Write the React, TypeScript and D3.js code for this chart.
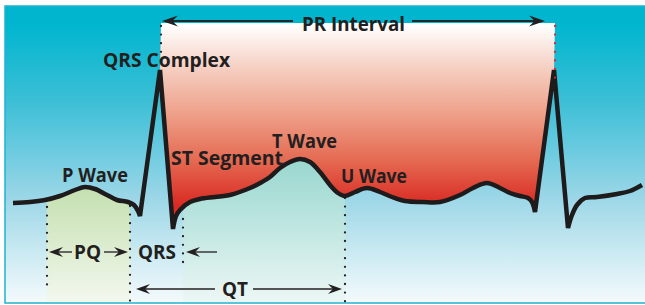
import React from "react";
import * as d3 from "d3";

type Pt = [number, number];

// ECG trace: [time units, amplitude units] (amplitude 0 = isoelectric baseline)
const pWaveSegment: Pt[] = [
  [13, -1], [30, 0], [45, 2], [60, 6], [75, 12], [85, 15], [95, 13], [107, 7],
  [117, 2], [128, 0], [134, -3], [138, -9], [140, -14],
];
const qrsComplex1: Pt[] = [[140, -14], [160, 132], [173, -27]];
const stTuSegment: Pt[] = [
  [173, -27], [176, -14], [180, -8], [190, 0], [200, 3], [215, 5], [230, 7],
  [250, 14], [262, 20], [270, 25], [280, 34], [290, 40], [300, 43], [310, 40],
  [320, 30], [330, 17], [338, 9], [345, 6], [355, 10], [367, 14], [380, 10],
  [392, 5], [405, 1], [423, 0], [440, 0], [460, 7], [473, 14], [487, 19],
  [500, 14], [510, 9], [520, 6], [528, 4], [532, 0], [535, -10],
];
const qrsComplex2: Pt[] = [[535, -10], [554, 132], [568, -26]];
const tailSegment: Pt[] = [
  [568, -26], [572, -13], [577, -3], [585, 4], [597, 5], [617, 8], [630, 11], [642, 17],
];

// Interval markers [start, end]
const prInterval: Pt = [161, 555];
const pqInterval: Pt = [47, 130];
const qrsInterval: Pt = [130, 183];
const qtInterval: Pt = [130, 345];
const prLevel = 179;
const pqLevel = -50;
const qtLevel = -87;
const floorLevel = -100;

// Labels: text, x, baseline amplitude, width
const waveLabels: { text: string; x: number; y: number; w: number }[] = [
  { text: "QRS Complex", x: 103, y: 135, w: 127 },
  { text: "ST Segment", x: 171, y: 37, w: 112 },
  { text: "T Wave", x: 272, y: 54, w: 65 },
  { text: "U Wave", x: 341, y: 19, w: 66 },
  { text: "P Wave", x: 62, y: 20, w: 66 },
];

const W = 645;
const H = 305;

const xs = d3.scaleLinear().domain([0, W]).range([0, W]);
const ys = d3.scaleLinear().domain([-100, 202]).range([302, 0]);

const smooth = d3
  .line<Pt>()
  .x((d) => xs(d[0]))
  .y((d) => ys(d[1]))
  .curve(d3.curveCatmullRom.alpha(0.5));
const straight = d3
  .line<Pt>()
  .x((d) => xs(d[0]))
  .y((d) => ys(d[1]))
  .curve(d3.curveLinear);

const cont = (s: string | null) => (s || "").replace(/^M/, "L");

const ecgPath =
  (smooth(pWaveSegment) || "") +
  cont(straight(qrsComplex1)) +
  cont(smooth(stTuSegment)) +
  cont(straight(qrsComplex2)) +
  cont(smooth(tailSegment));

const redPath =
  `M${xs(prInterval[0])},${ys(prLevel)}` +
  cont(straight(qrsComplex1.slice(1))) +
  cont(smooth(stTuSegment)) +
  cont(straight(qrsComplex2.slice(0, 2))) +
  `L${xs(prInterval[1])},${ys(prLevel)}Z`;

const areaUnder = (pts: Pt[]) =>
  (smooth(pts) || "") +
  `L${xs(pts[pts.length - 1][0])},${ys(floorLevel)}L${xs(pts[0][0])},${ys(floorLevel)}Z`;

const font = "'Open Sans', 'Liberation Sans', sans-serif";
const textColor = "#231f20";
const fs = 19.5;

function Label({ x, y, w, children }: any) {
  return (
    <text
      x={x}
      y={y}
      fontFamily={font}
      fontWeight={700}
      fontSize={fs}
      fill={textColor}
      textLength={w}
      lengthAdjust="spacingAndGlyphs"
    >
      {children}
    </text>
  );
}

function Arrow({ x, y, dir, len = 14, half = 5, color = "#231f20" }: any) {
  const s = dir === "right" ? 1 : -1;
  const p = [
    [x, y],
    [x - s * len, y - half],
    [x - s * len * 0.65, y],
    [x - s * len, y + half],
  ];
  return <path d={"M" + p.map((q) => q.join(",")).join("L") + "Z"} fill={color} />;
}

function Dotted({ x, y1, y2, color = "#231f20" }: any) {
  return (
    <line
      x1={xs(x)}
      x2={xs(x)}
      y1={ys(y1)}
      y2={ys(y2)}
      stroke={color}
      strokeWidth={2.3}
      strokeLinecap="round"
      strokeDasharray="0 8.6"
    />
  );
}

export default function App() {
  const prY = ys(prLevel) - 2;
  const pqY = ys(pqLevel);
  const qtY = ys(qtLevel);
  return (
    <svg
      width={W}
      height={H}
      viewBox={`0 0 ${W} ${H}`}
      style={{ position: "absolute", left: 0, top: 0, background: "#fff" }}
    >
      <defs>
        <linearGradient id="bg" x1="0" y1="6" x2="0" y2="303" gradientUnits="userSpaceOnUse">
          <stop offset="0" stopColor="#00b4ce" />
          <stop offset="0.07" stopColor="#02b6cf" />
          <stop offset="0.32" stopColor="#3cbfd6" />
          <stop offset="0.49" stopColor="#6ccbe0" />
          <stop offset="0.65" stopColor="#9dd7e7" />
          <stop offset="0.82" stopColor="#c8e9f1" />
          <stop offset="1" stopColor="#f4fafd" />
        </linearGradient>
        <linearGradient id="red" x1="0" y1="25" x2="0" y2="205" gradientUnits="userSpaceOnUse">
          <stop offset="0" stopColor="#ffffff" />
          <stop offset="0.25" stopColor="#f5cdbf" />
          <stop offset="0.5" stopColor="#ee9f88" />
          <stop offset="0.75" stopColor="#e56a52" />
          <stop offset="1" stopColor="#d92b23" />
        </linearGradient>
        <linearGradient id="green" x1="0" y1="185" x2="0" y2="302" gradientUnits="userSpaceOnUse">
          <stop offset="0" stopColor="#c3dfae" />
          <stop offset="1" stopColor="#f3f8ee" />
        </linearGradient>
        <linearGradient id="teal" x1="0" y1="160" x2="0" y2="302" gradientUnits="userSpaceOnUse">
          <stop offset="0" stopColor="#98d7cf" />
          <stop offset="1" stopColor="#ecf7f5" />
        </linearGradient>
        <clipPath id="clipPQ">
          <rect x={xs(pqInterval[0])} y={0} width={xs(pqInterval[1]) - xs(pqInterval[0])} height={H} />
        </clipPath>
        <clipPath id="clipST">
          <rect x={xs(qrsInterval[1])} y={0} width={xs(qtInterval[1]) - xs(qrsInterval[1])} height={H} />
        </clipPath>
      </defs>

      <rect x={5} y={6} width={641} height={297} fill="url(#bg)" stroke="#1cb4ce" strokeWidth={1.5} />

      <path d={areaUnder(pWaveSegment)} fill="url(#green)" clipPath="url(#clipPQ)" />
      <path d={areaUnder(stTuSegment)} fill="url(#teal)" clipPath="url(#clipST)" />
      <path d={redPath} fill="url(#red)" />

      {/* dotted guides */}
      <Dotted x={pqInterval[0]} y1={-5} y2={-86} />
      <Dotted x={pqInterval[1]} y1={-4} y2={-100} />
      <Dotted x={qrsInterval[1]} y1={-17} y2={-63} />
      <Dotted x={qtInterval[1]} y1={4} y2={-100} />
      <Dotted x={prInterval[0]} y1={176} y2={134} />

      <path
        d={ecgPath}
        fill="none"
        stroke="#1d1b1c"
        strokeWidth={4.5}
        strokeLinejoin="miter"
        strokeMiterlimit={1.6}
      />

      <Dotted x={prInterval[1]} y1={176} y2={122} color="#e0242a" />

      {/* PR interval arrow */}
      <line x1={xs(prInterval[0]) + 4} x2={293} y1={prY} y2={prY} stroke="#1d2a2c" strokeWidth={1.8} />
      <line x1={412} x2={xs(prInterval[1]) - 14} y1={prY} y2={prY} stroke="#1d2a2c" strokeWidth={1.8} />
      <Arrow x={xs(prInterval[0]) + 1} y={prY} dir="left" len={16} half={5.5} />
      <Arrow x={xs(prInterval[1]) - 10} y={prY} dir="right" len={16} half={5.5} />
      <Label x={302} y={31} w={103}>PR Interval</Label>

      {/* PQ */}
      <line x1={xs(pqInterval[0]) + 6} x2={72} y1={pqY} y2={pqY} stroke="#444" strokeWidth={1.6} />
      <line x1={104} x2={xs(pqInterval[1]) - 6} y1={pqY} y2={pqY} stroke="#444" strokeWidth={1.6} />
      <Arrow x={xs(pqInterval[0]) + 2} y={pqY} dir="left" />
      <Arrow x={xs(pqInterval[1]) - 2} y={pqY} dir="right" />
      <Label x={74} y={259} w={27}>PQ</Label>

      {/* QRS */}
      <Label x={138} y={259} w={38}>QRS</Label>
      <line x1={xs(qrsInterval[1]) + 8} x2={217} y1={pqY} y2={pqY} stroke="#444" strokeWidth={1.6} />
      <Arrow x={xs(qrsInterval[1]) + 3} y={pqY} dir="left" />

      {/* QT */}
      <line x1={xs(qtInterval[0]) + 10} x2={215} y1={qtY} y2={qtY} stroke="#555" strokeWidth={1.8} />
      <line x1={253} x2={xs(qtInterval[1]) - 8} y1={qtY} y2={qtY} stroke="#555" strokeWidth={1.8} />
      <Arrow x={xs(qtInterval[0]) + 6} y={qtY} dir="left" />
      <Arrow x={xs(qtInterval[1]) - 3} y={qtY} dir="right" />
      <Label x={222} y={296} w={26}>QT</Label>

      {waveLabels.map((l) => (
        <Label key={l.text} x={xs(l.x)} y={ys(l.y)} w={l.w}>
          {l.text}
        </Label>
      ))}
    </svg>
  );
}
